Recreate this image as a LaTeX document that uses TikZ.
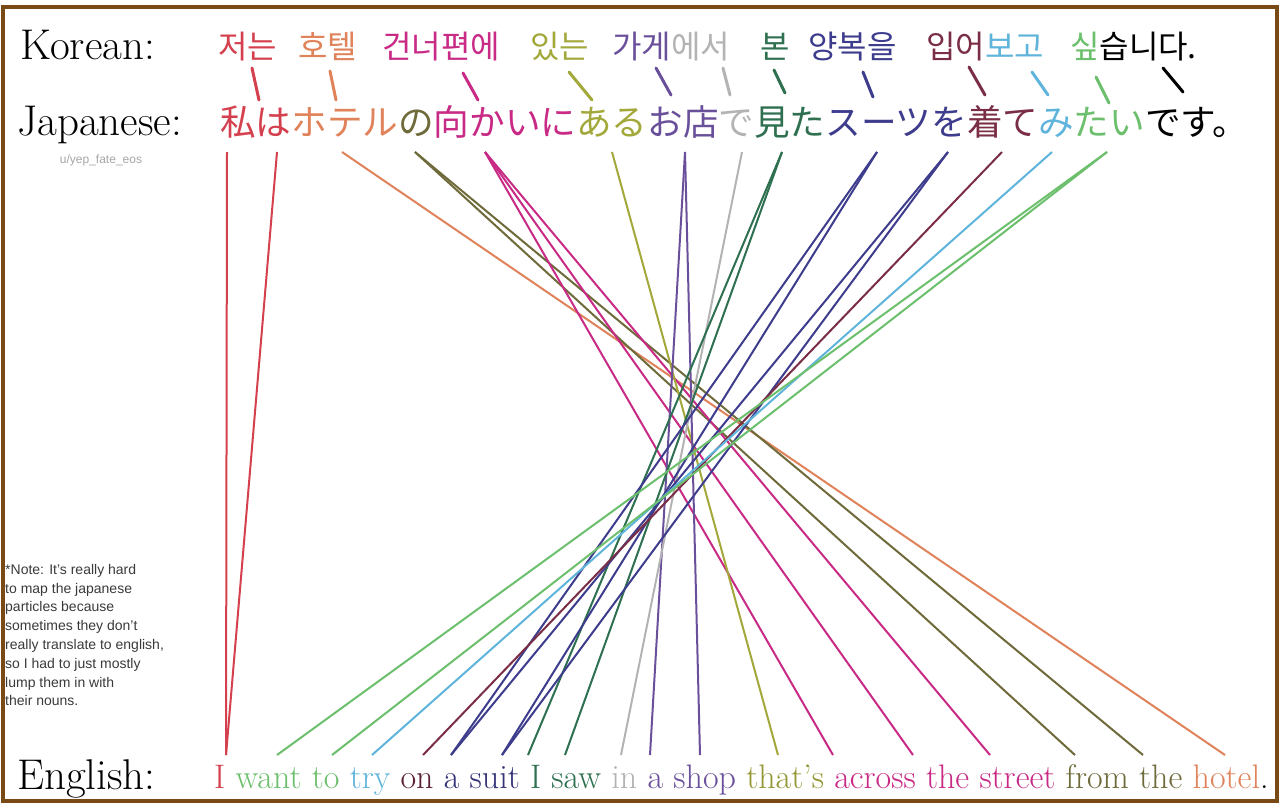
\documentclass[tikz,border=0pt]{standalone}
\usepackage{fontspec}
\newfontfamily\krfont{Noto Sans CJK KR}
\newfontfamily\jpfont{Noto Sans CJK JP}
\newfontfamily\notefont{Liberation Sans}
\definecolor{cred}{HTML}{D5404E}
\definecolor{corange}{HTML}{E0825A}
\definecolor{cdolive}{HTML}{6E6A3A}
\definecolor{cmag}{HTML}{C82A85}
\definecolor{cyol}{HTML}{A3A83A}
\definecolor{cpurple}{HTML}{6A509A}
\definecolor{cgray}{HTML}{B3B3B3}
\definecolor{cdgreen}{HTML}{2E7050}
\definecolor{cnavy}{HTML}{3E3C8C}
\definecolor{cmaroon}{HTML}{7A2E45}
\definecolor{clblue}{HTML}{5FB4DC}
\definecolor{cgreen}{HTML}{6CBF6C}
\definecolor{cframe}{HTML}{7A4A16}
\definecolor{cnote}{HTML}{3A3A3A}
\begin{document}
\begin{tikzpicture}[x=1pt,y=-1pt,
  longline/.style={line width=2pt},
  link/.style={line width=3pt, line cap=round},
  word/.style={inner sep=0pt, anchor=base west},
  kr/.style={word, font={\krfont\fontsize{32}{36}\selectfont}},
  label/.style={word, font={\fontsize{43}{48}\selectfont}}]
\useasboundingbox (0,0) rectangle (1280,807);
\fill[white] (0,0) rectangle (1280,807);
\draw[cframe, line width=3.2pt] (3,7) rectangle (1277,801);

% labels
\node[label] (lk) at (20,59) {Korean:};
\node[label] (lj) at (17,135) {Japanese:};
\node[label] (le) at (17,789) {English:};

% Korean
\node[kr, text=cred] (k1) at (218,58) {저는};
\node[kr, text=corange] (k2) at (298,58) {호텔};
\node[kr, text=cmag] (k3) at (382,58) {건너편에};
\node[kr, text=cyol] (k4) at (530,58) {있는};
\node[kr] (k5) at (612,58) {\textcolor{cpurple}{가게}\textcolor{cgray}{에서}};
\node[kr, text=cdgreen] (k6) at (760,58) {본};
\node[kr, text=cnavy] (k7) at (808,58) {양복을};
\node[kr] (k8) at (926,58) {\textcolor{cmaroon}{입어}\textcolor{clblue}{보고}};
\node[kr] (k9) at (1070,58) {\textcolor{cgreen}{싶}습니다.};

% Japanese
\node[word, font={\jpfont\fontsize{35.6}{40}\selectfont}] (jp) at (220,135) {\textcolor{cred}{私は}\textcolor{corange}{ホテル}\textcolor{cdolive}{の}\textcolor{cmag}{向かいに}\textcolor{cyol}{ある}\textcolor{cpurple}{お店}\textcolor{cgray}{で}\textcolor{cdgreen}{見た}\textcolor{cnavy}{スーツを}\textcolor{cmaroon}{着て}\textcolor{clblue}{み}\textcolor{cgreen}{たい}です。};

% English
\node[word, font={\fontsize{34}{38}\selectfont}] (en) at (214,788) {\textcolor{cred}{I} \textcolor{cgreen}{want to} \textcolor{clblue}{try} \textcolor{cmaroon!75!black}{on} \textcolor{cnavy!85!black}{a suit} \textcolor{cdgreen}{I saw} \textcolor{cgray}{in} \textcolor{cpurple}{a shop} \textcolor{cyol!90!black}{that’s} \textcolor{cmag}{across the street} \textcolor{cdolive}{from the} \textcolor{corange}{hotel}.};

% watermark and note
\node[font={\notefont\fontsize{12}{14}\selectfont}, text=gray!70, inner sep=0pt] (wm) at (101,160) {u/yep\_fate\_eos};
\node[anchor=north west, align=left, inner sep=0pt, text=cnote, font={\notefont\fontsize{14}{18.8}\selectfont}] (note) at (5,564) {*Note: It’s really hard\\to map the japanese\\particles because\\sometimes they don’t\\really translate to english,\\so I had to just mostly\\lump them in with\\their nouns.};

% Korean-Japanese link ends
\coordinate (ka1) at (252,68);  \coordinate (jb1) at (259,100);
\coordinate (ka2) at (330,71);  \coordinate (jb2) at (336,100);
\coordinate (ka3) at (463,73);  \coordinate (jb3) at (478,100);
\coordinate (ka4) at (569,72);  \coordinate (jb4) at (592,100);
\coordinate (ka5) at (656,68);  \coordinate (jb5) at (671,95);
\coordinate (ka6) at (723,68);  \coordinate (jb6) at (730,95);
\coordinate (ka7) at (774,70);  \coordinate (jb7) at (785,93);
\coordinate (ka8) at (863,72);  \coordinate (jb8) at (873,97);
\coordinate (ka9) at (969,67);  \coordinate (jb9) at (985,95);
\coordinate (ka10) at (1032,72); \coordinate (jb10) at (1048,95);
\coordinate (ka11) at (1096,77); \coordinate (jb11) at (1109,103);
\coordinate (ka12) at (1163,68); \coordinate (jb12) at (1183,92);

\draw[link, cred] (ka1) -- (jb1);
\draw[link, corange] (ka2) -- (jb2);
\draw[link, cmag] (ka3) -- (jb3);
\draw[link, cyol] (ka4) -- (jb4);
\draw[link, cpurple] (ka5) -- (jb5);
\draw[link, cgray] (ka6) -- (jb6);
\draw[link, cdgreen] (ka7) -- (jb7);
\draw[link, cnavy] (ka8) -- (jb8);
\draw[link, cmaroon] (ka9) -- (jb9);
\draw[link, clblue] (ka10) -- (jb10);
\draw[link, cgreen] (ka11) -- (jb11);
\draw[link, black] (ka12) -- (jb12);

% Japanese-English line ends
\coordinate (jA) at (227,152);
\coordinate (jB) at (277,152);
\coordinate (jC) at (342,152);
\coordinate (jD) at (415,152);
\coordinate (jE) at (485,152);
\coordinate (jF) at (612,152);
\coordinate (jG) at (685,152);
\coordinate (jH) at (742,152);
\coordinate (jI) at (782,152);
\coordinate (jJ) at (877,152);
\coordinate (jK) at (948,152);
\coordinate (jL) at (1002,152);
\coordinate (jM) at (1052,152);
\coordinate (jN) at (1107,152);

\coordinate (eI) at (226,755);
\coordinate (eWant) at (277,755);
\coordinate (eTo) at (332,755);
\coordinate (eTry) at (372,755);
\coordinate (eOn) at (423,755);
\coordinate (eA) at (451,755);
\coordinate (eSuit) at (502,755);
\coordinate (eII) at (528,755);
\coordinate (eSaw) at (565,755);
\coordinate (eIn) at (621,755);
\coordinate (eAA) at (650,755);
\coordinate (eShop) at (700,755);
\coordinate (eThats) at (778,755);
\coordinate (eAcross) at (833,755);
\coordinate (eThe) at (913,755);
\coordinate (eStreet) at (990,755);
\coordinate (eFrom) at (1075,755);
\coordinate (eTheB) at (1143,755);
\coordinate (eHotel) at (1225,755);

\draw[longline, cred] (jA) -- (eI);
\draw[longline, cred] (jB) -- (eI);
\draw[longline, corange] (jC) -- (eHotel);
\draw[longline, cdolive] (jD) -- (eFrom);
\draw[longline, cdolive] (jD) -- (eTheB);
\draw[longline, cmag] (jE) -- (eAcross);
\draw[longline, cmag] (jE) -- (eThe);
\draw[longline, cmag] (jE) -- (eStreet);
\draw[longline, cyol] (jF) -- (eThats);
\draw[longline, cpurple] (jG) -- (eAA);
\draw[longline, cpurple] (jG) -- (eShop);
\draw[longline, cgray] (jH) -- (eIn);
\draw[longline, cdgreen] (jI) -- (eII);
\draw[longline, cdgreen] (jI) -- (eSaw);
\draw[longline, cnavy] (jJ) -- (eA);
\draw[longline, cnavy] (jJ) -- (eSuit);
\draw[longline, cnavy] (jK) -- (eA);
\draw[longline, cnavy] (jK) -- (eSuit);
\draw[longline, cmaroon] (jL) -- (eOn);
\draw[longline, clblue] (jM) -- (eTry);
\draw[longline, cgreen] (jN) -- (eWant);
\draw[longline, cgreen] (jN) -- (eTo);
\end{tikzpicture}
\end{document}
